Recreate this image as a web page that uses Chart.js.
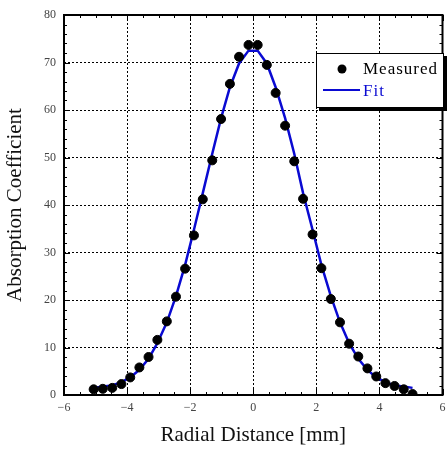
<!DOCTYPE html>
<html lang="en">
<head>
    <meta charset="utf-8">
    <script src="https://cdn.jsdelivr.net/npm/chart.js@4.4.0/dist/chart.umd.min.js"></script>
    <style>
        html, body { margin: 0; padding: 0; background: #fff; }
        #wrap { width: 448px; height: 450px; }
    </style>
</head>
<body>
    <div id="wrap"><canvas id="profileChart" width="448" height="450"></canvas></div>

    <script>
        // radial positions [mm] and measured absorption
        const radius = [-5.06, -4.77, -4.47, -4.18, -3.90, -3.61, -3.32, -3.04, -2.74, -2.45, -2.16, -1.88,
            -1.60, -1.30, -1.02, -0.74, -0.45, -0.15, 0.14, 0.43, 0.71, 1.01, 1.30, 1.58,
            1.88, 2.16, 2.46, 2.75, 3.04, 3.33, 3.62, 3.90, 4.19, 4.48, 4.77, 5.05];
        const measured = [1.2, 1.3, 1.5, 2.3, 3.7, 5.8, 8.0, 11.6, 15.5, 20.7, 26.6, 33.6,
            41.2, 49.4, 58.1, 65.5, 71.2, 73.7, 73.7, 69.5, 63.6, 56.7, 49.2, 41.3,
            33.8, 26.7, 20.2, 15.3, 10.8, 8.1, 5.6, 3.9, 2.5, 1.9, 1.2, 0.2];
        const fit = [1.5, 1.8, 2.0, 2.7, 3.7, 5.3, 7.6, 10.9, 15.3, 20.8, 27.4, 34.8,
            42.5, 50.8, 58.3, 64.8, 69.8, 72.5, 72.5, 69.8, 64.8, 58.3, 50.8, 42.5,
            34.8, 27.4, 20.8, 15.3, 10.9, 7.6, 5.3, 3.7, 2.7, 2.0, 1.8, 1.5];
        const legendLabels = ['Measured', 'Fit'];

        const serif = '"Liberation Serif", "DejaVu Serif", serif';
        const fitBlue = '#0a0ad2';

        // frame, inward ticks (major + minor) and the boxed legend
        const framePlugin = {
            id: 'frame',
            afterDraw(chart) {
                const { ctx, chartArea: a, scales: { x, y } } = chart;
                ctx.save();
                ctx.strokeStyle = '#000';
                ctx.lineWidth = 1;
                for (let v = -6; v <= 6.001; v += 0.5) {
                    const px = Math.round(x.getPixelForValue(v)) + 0.5;
                    const len = Math.abs(v % 2) < 0.01 ? 6 : 3;
                    ctx.beginPath();
                    ctx.moveTo(px, a.bottom); ctx.lineTo(px, a.bottom - len);
                    ctx.moveTo(px, a.top); ctx.lineTo(px, a.top + len);
                    ctx.stroke();
                }
                for (let v = 0; v <= 80; v += 2) {
                    const py = Math.round(y.getPixelForValue(v)) + 0.5;
                    const len = v % 10 === 0 ? 6 : 3;
                    ctx.beginPath();
                    ctx.moveTo(a.left, py); ctx.lineTo(a.left + len, py);
                    ctx.moveTo(a.right, py); ctx.lineTo(a.right - len, py);
                    ctx.stroke();
                }
                ctx.lineWidth = 2;
                ctx.strokeRect(a.left, a.top, a.right - a.left, a.bottom - a.top);

                // legend box with drop shadow
                const bx = 316, by = 53, bw = 128, bh = 55;
                ctx.fillStyle = '#000';
                ctx.fillRect(bx + 3, by + 3, bw, bh);
                ctx.fillStyle = '#fff';
                ctx.fillRect(bx, by, bw, bh);
                ctx.lineWidth = 1;
                ctx.strokeRect(bx + 0.5, by + 0.5, bw - 1, bh - 1);

                ctx.fillStyle = '#000';
                ctx.beginPath();
                ctx.arc(342, 69, 4.5, 0, Math.PI * 2);
                ctx.fill();
                ctx.strokeStyle = fitBlue;
                ctx.lineWidth = 2;
                ctx.beginPath();
                ctx.moveTo(323, 90); ctx.lineTo(360, 90);
                ctx.stroke();

                ctx.font = '17px ' + serif;
                ctx.textBaseline = 'middle';
                ctx.letterSpacing = '1px';
                ctx.fillStyle = '#000';
                ctx.fillText(legendLabels[0], 363, 70);
                ctx.fillStyle = fitBlue;
                ctx.fillText(legendLabels[1], 363, 92);
                ctx.restore();
            }
        };

        const ctx = document.getElementById('profileChart');
        const chart = new Chart(ctx, {
            type: 'scatter',
            data: {
                datasets: [
                    {
                        label: legendLabels[0],
                        data: radius.map((r, i) => ({ x: r, y: measured[i] })),
                        backgroundColor: '#000',
                        borderColor: '#000',
                        pointRadius: 4.5,
                        order: 0
                    },
                    {
                        label: legendLabels[1],
                        type: 'line',
                        data: radius.map((r, i) => ({ x: r, y: fit[i] })),
                        borderColor: fitBlue,
                        borderWidth: 2.5,
                        pointRadius: 0,
                        tension: 0,
                        fill: false,
                        order: 1
                    }
                ]
            },
            options: {
                responsive: false,
                animation: false,
                layout: { padding: { top: 15, right: 3, left: 2, bottom: 2 } },
                plugins: { legend: { display: false }, tooltip: { enabled: false } },
                scales: {
                    x: {
                        type: 'linear',
                        min: -6, max: 6,
                        ticks: {
                            stepSize: 2,
                            padding: 6,
                            color: '#444',
                            font: { family: serif, size: 12 },
                            callback: v => String(v).replace('-', '\u2212')
                        },
                        grid: { color: '#000', lineWidth: 1, drawTicks: false },
                        border: { display: false, dash: [2, 2] },
                        title: {
                            display: true,
                            text: 'Radial Distance [mm]',
                            color: '#111',
                            font: { family: serif, size: 21 },
                            padding: 0
                        },
                        afterFit: s => { s.height = 53; s.paddingLeft = 0; s.paddingRight = 0; }
                    },
                    y: {
                        min: 0, max: 80,
                        ticks: {
                            stepSize: 10,
                            padding: 8,
                            color: '#444',
                            font: { family: serif, size: 12 }
                        },
                        grid: { color: '#000', lineWidth: 1, drawTicks: false },
                        border: { display: false, dash: [2, 2] },
                        title: {
                            display: true,
                            text: 'Absorption Coefficient',
                            color: '#111',
                            font: { family: serif, size: 21 },
                            padding: { top: 1, bottom: 0 }
                        },
                        afterFit: s => { s.width = 62; s.paddingTop = 0; s.paddingBottom = 0; }
                    }
                }
            },
            plugins: [framePlugin]
        });
    </script>
</body>
</html>
